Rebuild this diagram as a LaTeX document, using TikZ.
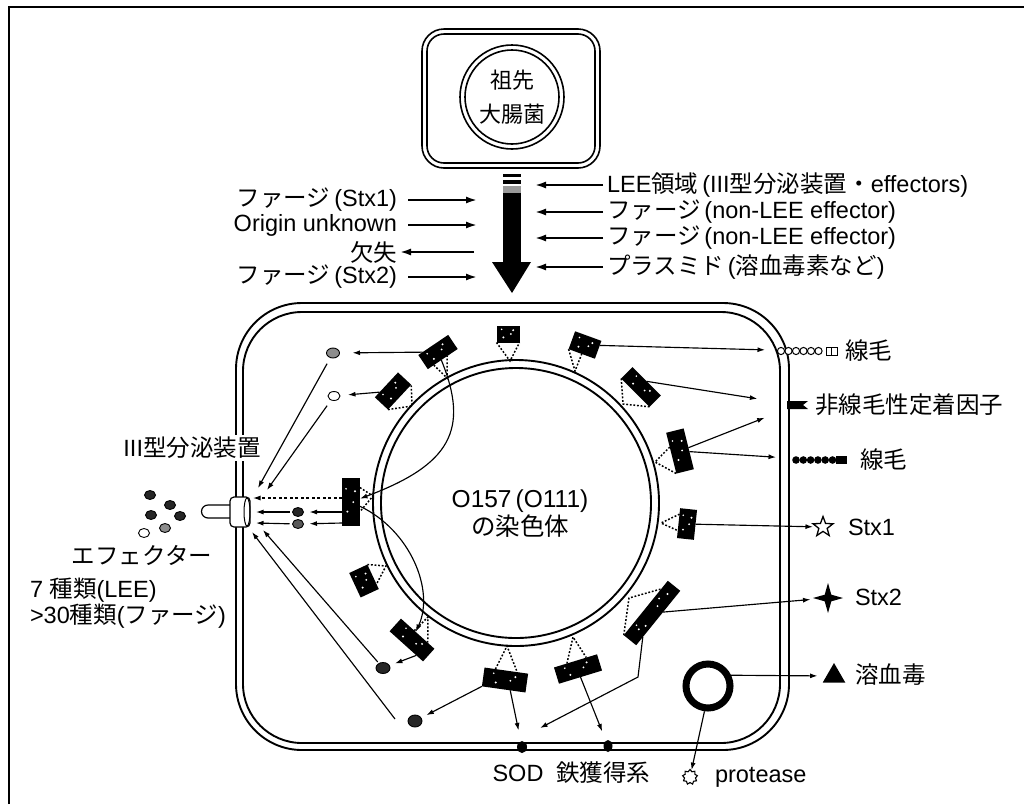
\documentclass[tikz,border=0pt]{standalone}
\usepackage{fontspec}
\setmainfont{Liberation Sans}
\newfontfamily\jpfont[Scale=1.0]{Noto Sans CJK JP}
\newcommand\J[1]{{\jpfont #1}}
\usetikzlibrary{arrows.meta,shapes.geometric,calc}
% white speckles on a gene block
\newcommand\gdots[1]{%
  \fill[white] ($(#1.center)!0.45!(#1.north east)$) circle (1.1pt)
               ($(#1.center)!0.4!(#1.south west)$) circle (1.1pt)
               ($(#1.center)!0.55!(#1.north west)$) circle (0.9pt)
               ($(#1.center)!0.25!(#1.east)$) circle (1pt);}

\begin{document}
\begin{tikzpicture}[x=1pt,y=-1pt,
  font=\fontsize{23.5}{28}\selectfont,
  every node/.style={inner sep=0pt,outer sep=0pt},
  flow/.style={line width=1.9pt,-{Latex[length=11pt,width=7pt]}},
  arr/.style={line width=1.15pt,-{Latex[length=7.5pt,width=5pt]}},
  dotl/.style={line width=1.5pt,dash pattern=on 1.8pt off 1.8pt},
  memb/.style={line width=1.9pt},
  gene/.style={rectangle,fill=black},
  mol/.style={ellipse,draw,line width=0.9pt,minimum width=11pt,minimum height=9pt},
  dotmol/.style={mol,fill=black!85},
  greymol/.style={mol,fill=black!45},
  openmol/.style={mol,fill=white},
]
\useasboundingbox (0,0) rectangle (1024,804);

% page frame (top and left edges)
\draw[line width=1.2pt] (9,804) -- (9,7) -- (1024,7);

% ancestral E. coli
\draw[line width=1.6pt,rounded corners=22pt] (422,29) rectangle (600,168);
\draw[line width=1.6pt,rounded corners=17pt] (427,34) rectangle (595,163);
\draw[line width=1.6pt] (512,97) circle (52pt);
\draw[line width=1.6pt] (512,97) circle (47pt);
\node[align=center,font=\fontsize{22}{34}\selectfont] (anc) at (512,97) {\J{祖先}\\\J{大腸菌}};

% striped evolution arrow
\fill (503,174) rectangle (521,177);
\fill (503,180) rectangle (521,184);
\fill[black!40] (503,186) rectangle (521,193);
\fill (503,193) rectangle (521,263);
\fill (492,262) -- (531,262) -- (512,293) -- cycle;

% acquisitions on the left
\node[anchor=east] (l1) at (397,200) {\J{ファージ}\,(Stx1)};
\node[anchor=east] (l2) at (397,225) {Origin unknown};
\node[anchor=east] (l3) at (397,252) {\J{欠失}};
\node[anchor=east] (l4) at (397,277) {\J{ファージ}\,(Stx2)};
\coordinate (l1t) at (477,200);
\coordinate (l2t) at (477,225);
\coordinate (l3t) at (474,252);
\coordinate (l4t) at (477,277);
\draw[flow] ([xshift=11pt]l1.east) -- (l1t);
\draw[flow] ([xshift=11pt]l2.east) -- (l2t);
\draw[flow] (l3t) -- ([xshift=3pt]l3.east);
\draw[flow] ([xshift=11pt]l4.east) -- (l4t);

% acquisitions on the right
\node[anchor=west] (r1) at (607,185) {LEE\J{領域}\,(III\J{型分泌装置・}effectors)};
\node[anchor=west] (r2) at (607,212) {\J{ファージ}\,(non-LEE effector)};
\node[anchor=west] (r3) at (607,238) {\J{ファージ}\,(non-LEE effector)};
\node[anchor=west] (r4) at (607,267) {\J{プラスミド}\,(\J{溶血毒素など})};
\coordinate (r1t) at (535,185);
\coordinate (r2t) at (535,212);
\coordinate (r3t) at (535,238);
\coordinate (r4t) at (535,267);
\foreach \r in {r1,r2,r3,r4} \draw[flow] ([xshift=-4pt]\r.west) -- (\r t);

% cell envelope
\draw[memb,rounded corners=66pt] (236,303) rectangle (789,750);
\draw[memb,rounded corners=59pt] (243,312) rectangle (780,743);

% chromosome
\coordinate (ring) at (516,503);
\draw[memb] (ring) circle (143pt);
\draw[memb] (ring) circle (135pt);
\node[align=center,font=\fontsize{24.5}{28}\selectfont] (chr) at (520,514) {O157\,(O111)\\\J{の染色体}};

% type III secretion apparatus
\draw[fill=white,line width=1.2pt] (231,505) -- (208,505) arc (90:270:6.5pt) -- (231,518);
\node[draw,fill=white,line width=1.2pt,rounded corners=4pt,minimum width=20pt,minimum height=30pt] (t3) at (240,512) {};
\draw[line width=1pt] (247,512) ellipse (3pt and 14pt);
\node[fill=white,inner sep=2pt] (t3l) at (192,448) {III\J{型分泌装置}};

% secreted effectors
\node[dotmol] (x1) at (150,495) {};
\node[dotmol] (x2) at (170,505) {};
\node[dotmol] (x3) at (151,515) {};
\node[dotmol] (x4) at (180,516) {};
\node[openmol] (x5) at (144,533) {};
\node[greymol] (x6) at (165,528) {};
\node (effl) at (142,555) {\J{エフェクター}};
\node[anchor=west] (n1) at (30,590) {7 \J{種類}(LEE)};
\node[anchor=west] (n2) at (30,616) {>30\J{種類}(\J{ファージ})};

% gene blocks on the chromosome
\node[gene,minimum width=36pt,minimum height=17pt,rotate=34] (b1) at (438,352) {};
\node[gene,minimum width=34pt,minimum height=18pt,rotate=47] (b2) at (393,391) {};
\node[gene,minimum width=23pt,minimum height=17pt] (K) at (508,334) {};
\node[gene,minimum width=28pt,minimum height=19pt,rotate=-20] (J) at (585,345) {};
\node[gene,minimum width=40pt,minimum height=16pt,rotate=-45] (I) at (641,387) {};
\node[gene,minimum width=18pt,minimum height=42pt,rotate=14] (H) at (680,451) {};
\node[gene,minimum width=17pt,minimum height=30pt,rotate=-6] (S1) at (687,524) {};
\node[gene,minimum width=70pt,minimum height=16pt,rotate=51] (G) at (652,613) {};
\node[gene,minimum width=45pt,minimum height=17pt,rotate=17] (F) at (578,669) {};
\node[gene,minimum width=44pt,minimum height=19pt,rotate=-8] (E) at (505,680) {};
\node[gene,minimum width=45pt,minimum height=17pt,rotate=-42] (B) at (412,640) {};
\node[gene,minimum width=20pt,minimum height=27pt,rotate=25] (A) at (364,581) {};
\node[gene,minimum width=18pt,minimum height=48pt] (lee) at (351,502) {};
\foreach \g in {b1,b2,K,J,I,H,S1,G,F,E,B,A,lee} {\gdots{\g}}
\fill[white] ($(G.center)!0.6!(G.west)$) circle (1.1pt) ($(G.center)!0.7!(G.east)$) circle (1.1pt);

% attachment points on the chromosome
\coordinate (rb1) at (447,378);
\coordinate (rb2) at (412,406);
\coordinate (rK) at (510,361);
\coordinate (rJ) at (575,371);
\coordinate (rI) at (623,404);
\coordinate (rH) at (655,462);
\coordinate (rS1) at (661,523);
\coordinate (rG) at (629,598);
\coordinate (rF) at (573,637);
\coordinate (rE) at (507,646);
\coordinate (rB) at (428,617);
\coordinate (rA) at (386,566);
\coordinate (rL) at (373,496);
\draw[dotl] ($(b1.south)!0.6!(b1.south west)$) -- (rb1) -- ($(b1.south)!0.3!(b1.south east)$);
\draw[dotl] (b2.south west) -- (rb2) -- (b2.south east);
\draw[dotl] (K.south west) -- (rK) -- (K.south east);
\draw[dotl] (J.south west) -- (rJ) -- (J.south);
\draw[dotl] (I.south west) -- (rI) -- (I.south east);
\draw[dotl] ($(H.north west)!0.35!(H.south west)$) -- (rH) -- (H.south west);
\draw[dotl] ($(S1.north west)!0.2!(S1.south west)$) -- (rS1) -- ($(S1.north west)!0.75!(S1.south west)$);
\draw[dotl] (G.north west) -- (rG) -- ($(G.north)!0.7!(G.north east)$);
\draw[dotl] ($(F.north west)!0.3!(F.north east)$) -- (rF) -- ($(F.north west)!0.75!(F.north east)$);
\draw[dotl] ($(E.north west)!0.25!(E.north east)$) -- (rE) -- ($(E.north west)!0.75!(E.north east)$);
\draw[dotl] ($(B.north)!0.2!(B.north west)$) -- (rB) -- ($(B.north)!0.6!(B.north east)$);
\draw[dotl] (A.north east) -- (rA) -- ($(A.east)!0.6!(A.south east)$);
\draw[dotl] ($(lee.north east)!0.2!(lee.south east)$) -- (rL) -- ($(lee.north east)!0.7!(lee.south east)$);

% effector molecules inside the cell
\node[greymol,minimum width=13pt,minimum height=10pt] (e1) at (333,353) {};
\node[openmol,minimum width=12pt,minimum height=9pt] (e2) at (334,396) {};
\node[dotmol] (f1) at (298,512) {};
\node[mol,fill=black!65] (f2) at (298,524) {};
\node[dotmol,minimum width=14pt,minimum height=11pt] (C) at (383,668) {};
\node[dotmol,minimum width=14pt,minimum height=12pt] (D) at (415,721) {};

% secretion routes
\coordinate (tA) at (258,488);
\coordinate (tB) at (267,490);
\coordinate (tC) at (253,498);
\coordinate (tD) at (256,512);
\coordinate (tE) at (256,523);
\coordinate (tF) at (263,530);
\coordinate (tG) at (252,532);
\draw[arr,shorten >=13pt] (b1) -- (e1);
\draw[arr,shorten >=8pt] (b2) -- (e2);
\draw[arr,shorten <=7pt] (e1) -- (tA);
\draw[arr,shorten <=7pt] (e2) -- (tB);
\draw[arr,dash pattern=on 3pt off 2.5pt] ($(lee.west)+(0,-4)$) -- (tC);
\draw[arr,shorten >=6pt] ($(lee.west)+(0,10)$) -- (f1);
\draw[arr,shorten <=3pt] (f1) -- (tD);
\draw[arr,shorten >=6pt] ($(lee.west)+(0,21)$) -- (f2);
\draw[arr,shorten <=3pt] (f2) -- (tE);
\draw[arr,shorten <=2pt] (C) -- (tF);
\draw[arr] ([xshift=-13pt,yshift=2pt]D.west) -- (tG);

% regulatory curves
\draw[arr] (b1) .. controls (470,430) and (450,465) .. (lee);
\draw[arr] (lee) .. controls (410,530) and (435,590) .. (B);

% products to the lower side
\draw[arr,shorten >=6pt] ($(B.south)!0.6!(B.south east)$) -- (C);
\draw[arr,shorten >=6pt] (E.south west) -- (D);

% membrane proteins
\node[ellipse,fill=black,minimum width=10pt,minimum height=12pt] (sod) at (522,747) {};
\node[ellipse,fill=black,minimum width=9pt,minimum height=12pt] (fe) at (608,746) {};
\node (sodl) at (518,773) {SOD};
\node (fel) at (603,773) {\J{鉄獲得系}};
\draw[arr,shorten >=11pt] ($(E.south)!0.3!(E.south east)$) -- (sod);
\draw[arr,shorten >=10pt] (F.south) -- (fe);
\coordinate (gbend) at (638,677);
\coordinate (gtip) at (540,728);
\draw[arr] ($(G.south west)!0.15!(G.south east)$) -- (gbend) -- (gtip);

% surface structures
\node[minimum width=62pt,minimum height=8pt] (pil1) at (807,351) {};
\foreach \i in {0,...,5} \draw[line width=1pt,fill=white] (781+7.5*\i,351) circle (3.6pt);
\draw[line width=1pt] (826,347) rectangle (837,355);
\draw[line width=1pt] (831,347) -- (831,355);
\node[minimum width=20pt,minimum height=8pt] (adh) at (797,405) {};
\fill (787,401) -- (808,401) -- (803,405) -- (808,409) -- (787,409) -- cycle;
\node[minimum width=56pt,minimum height=8pt] (pil2) at (819,460) {};
\foreach \i in {0,...,5} \fill (796+7.3*\i,460) circle (3.8pt);
\fill (836,456) rectangle (847,464);
\node[anchor=west] (pil1l) at (845,351) {\J{線毛}};
\node[anchor=west] (adhl) at (815,405) {\J{非線毛性定着因子}};
\node[anchor=west] (pil2l) at (860,460) {\J{線毛}};
\draw[arr,shorten >=11pt] (J) -- (pil1);
\draw[arr,shorten >=30pt] (I.north) -- (adh);
\draw[arr,shorten >=24pt] (H) -- (adh);
\draw[arr,shorten >=15pt] (H) -- (pil2);

% toxins
\node[star,star points=5,star point ratio=2.4,draw,line width=1.3pt,minimum size=21pt] (stx1s) at (823,527) {};
\node[star,star points=4,star point ratio=3.2,fill,minimum size=30pt] (stx2s) at (828,598) {};
\node[regular polygon,regular polygon sides=3,fill,minimum size=26pt] (tri) at (834,676) {};
\node[anchor=west] (stx1l) at (848,527) {Stx1};
\node[anchor=west] (stx2l) at (855,597) {Stx2};
\node[anchor=west] (hlyl) at (855,675) {\J{溶血毒}};
\draw[arr,shorten >=4pt] (S1) -- (stx1s);
\draw[arr,shorten >=6pt] (G) -- (stx2s);

% plasmid
\node[circle,draw,line width=7pt,minimum size=44pt,outer sep=3.5pt] (pl) at (708,686) {};
\node[star,star points=9,star point ratio=1.35,draw,line width=1.1pt,minimum size=15pt] (prot) at (690,777) {};
\node[anchor=west] (protl) at (715,777) {protease};
\draw[arr,shorten >=9pt] (pl.25) -- (tri);
\draw[arr,shorten >=1pt] (pl.262) -- (prot);
\end{tikzpicture}
\end{document}
